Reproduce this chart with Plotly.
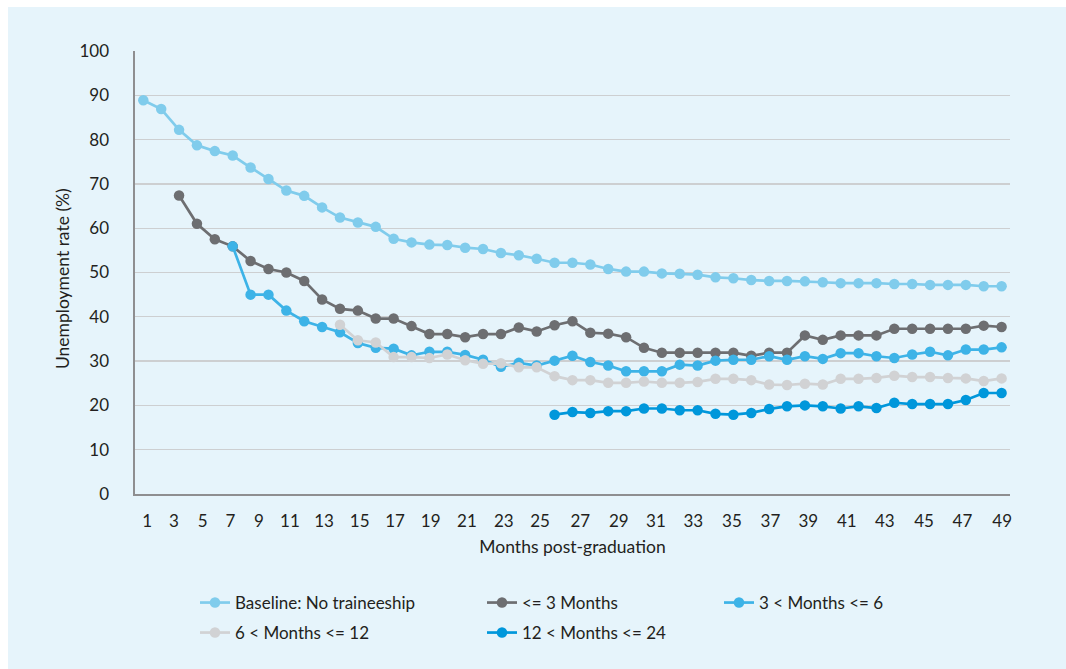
import plotly.graph_objects as go

# ---------------- data ----------------
months = list(range(1, 50))

baseline = [88.9, 86.9, 82.2, 78.7, 77.4, 76.4, 73.7, 71.1, 68.5, 67.3,
            64.7, 62.4, 61.3, 60.3, 57.6, 56.8, 56.3, 56.2, 55.6, 55.3,
            54.4, 53.9, 53.1, 52.2, 52.2, 51.8, 50.8, 50.2, 50.2, 49.8,
            49.7, 49.5, 48.9, 48.7, 48.3, 48.1, 48.1, 48.0, 47.8, 47.6,
            47.6, 47.6, 47.4, 47.4, 47.2, 47.2, 47.2, 46.9, 46.9]

le3_start = 3
le3 = [67.4, 61.0, 57.5, 55.9, 52.6, 50.8, 50.0, 48.1, 43.9, 41.8,
       41.4, 39.6, 39.6, 37.9, 36.1, 36.1, 35.4, 36.1, 36.1, 37.6,
       36.7, 38.1, 39.0, 36.4, 36.2, 35.4, 33.0, 31.9, 31.9, 31.9,
       31.9, 31.9, 31.2, 31.9, 31.9, 35.8, 34.8, 35.8, 35.8, 35.8,
       37.3, 37.3, 37.3, 37.3, 37.3, 38.0, 37.7]

m3_6_start = 6
m3_6 = [55.9, 45.0, 45.0, 41.4, 39.0, 37.7, 36.5, 34.1, 33.0, 32.8,
        31.3, 32.1, 32.1, 31.4, 30.3, 28.7, 29.6, 29.0, 30.1, 31.2,
        29.8, 29.0, 27.7, 27.7, 27.7, 29.2, 29.0, 30.1, 30.3, 30.3,
        31.1, 30.3, 31.1, 30.5, 31.8, 31.8, 31.1, 30.7, 31.5, 32.1,
        31.3, 32.6, 32.6, 33.1]

m6_12_start = 12
m6_12 = [38.2, 34.7, 34.2, 30.9, 30.9, 30.7, 31.5, 30.2, 29.4, 29.5,
         28.6, 28.6, 26.6, 25.7, 25.7, 25.1, 25.1, 25.4, 25.1, 25.1,
         25.3, 26.0, 26.0, 25.7, 24.7, 24.6, 24.9, 24.7, 26.0, 26.0,
         26.2, 26.7, 26.4, 26.4, 26.2, 26.1, 25.5, 26.1]

m12_24_start = 24
m12_24 = [17.9, 18.5, 18.3, 18.7, 18.7, 19.3, 19.3, 18.9, 18.9, 18.1,
          17.9, 18.3, 19.2, 19.8, 20.0, 19.8, 19.3, 19.8, 19.4, 20.6,
          20.3, 20.3, 20.3, 21.2, 22.8, 22.8]

series_names = ["Baseline: No traineeship", "<= 3 Months", "3 < Months <= 6",
                "6 < Months <= 12", "12 < Months <= 24"]

x_tick_labels = [str(m) for m in range(1, 50, 2)]

x_title = "Months post-graduation"
y_title = "Unemployment rate (%)"

# ---------------- styling ----------------
FONT = "Lato"
TEXT = "#231F20"
BG = "#E6F4FB"
colors = ["#80CCEC", "#6D6E71", "#3DB3E7", "#D1D2D4", "#0097DB"]
# positions of the tick labels along the axis as drawn in the reference
x_tick_pos = [1.22, 2.72, 4.32, 5.87, 7.47, 9.20, 11.11, 13.10, 15.08, 17.07,
              19.10, 21.16, 23.19, 25.44, 27.59, 29.67, 31.76, 33.92, 36.07,
              38.19, 40.34, 42.47, 44.66, 46.81, 49.03]

series = [
    (months, baseline),
    (months[le3_start - 1:], le3),
    (months[m3_6_start - 1:], m3_6),
    (months[m6_12_start - 1:], m6_12),
    (months[m12_24_start - 1:], m12_24),
]

legend_ids = ["legend", "legend2", "legend3", "legend4", "legend5"]

fig = go.Figure()
for (xs, ys), name, col, lid in zip(series, series_names, colors, legend_ids):
    fig.add_trace(go.Scatter(
        x=xs, y=ys, name=name, mode="lines+markers",
        line=dict(color=col, width=2.7),
        marker=dict(color=col, size=10.5),
        legend=lid,
    ))

W, H = 1066, 669
ML, MR, MT, MB = 135, 56, 51, 175
pw, ph = W - ML - MR, H - MT - MB


def px_to_paper_x(px):
    return (px - ML) / pw


def px_to_paper_y(py):
    return (H - MB - py) / ph


leg_font = dict(family=FONT, size=17, color=TEXT)
legend_pos = [(195, 603), (482, 603), (719, 603), (195, 633), (482, 633)]
legend_layouts = {}
for lid, (lx, ly) in zip(legend_ids, legend_pos):
    legend_layouts[lid] = dict(
        x=px_to_paper_x(lx), y=px_to_paper_y(ly), xanchor="left", yanchor="middle",
        orientation="v", bgcolor="rgba(0,0,0,0)", borderwidth=0, font=leg_font,
    )

fig.update_layout(
    width=W, height=H,
    margin=dict(l=ML, r=MR, t=MT, b=MB, autoexpand=False),
    paper_bgcolor="white",
    plot_bgcolor="rgba(0,0,0,0)",
    font=dict(family=FONT, color=TEXT, size=17),
    showlegend=True,
    hovermode=False,
    xaxis=dict(
        range=[0.536, 49.47],
        tickmode="array", tickvals=x_tick_pos, ticktext=x_tick_labels,
        showgrid=False, zeroline=False,
        showline=True, linecolor="#8E8E90", linewidth=1.6,
        ticks="outside", ticklen=11, tickcolor="rgba(0,0,0,0)",
        tickfont=dict(family=FONT, size=17, color=TEXT),
        title=dict(text=x_title, standoff=11,
                   font=dict(family=FONT, size=17.5, color=TEXT)),
        automargin=False,
    ),
    yaxis=dict(
        range=[0, 100], dtick=10, tick0=0,
        showgrid=True, gridcolor="#CDCFD1", gridwidth=1.3,
        zeroline=False,
        showline=True, linecolor="#8E8E90", linewidth=1.6,
        ticks="outside", ticklen=21, tickcolor="rgba(0,0,0,0)",
        tickfont=dict(family=FONT, size=17, color=TEXT),
        automargin=False,
    ),
    annotations=[dict(
        text=y_title, textangle=-90, showarrow=False,
        xref="paper", yref="paper",
        x=px_to_paper_x(62), y=px_to_paper_y(279),
        xanchor="center", yanchor="middle",
        font=dict(family=FONT, size=17.5, color=TEXT),
    )],
    shapes=[dict(
        type="rect", xref="paper", yref="paper", layer="below",
        x0=px_to_paper_x(8), x1=px_to_paper_x(W + 10),
        y0=px_to_paper_y(H + 10), y1=px_to_paper_y(7),
        fillcolor=BG, line=dict(width=0),
    )],
    **legend_layouts,
)

fig.write_html(
    "out.html",
    config={"displayModeBar": False, "staticPlot": True},
    post_script="document.body.style.margin='0';document.body.style.overflow='hidden';",
)
